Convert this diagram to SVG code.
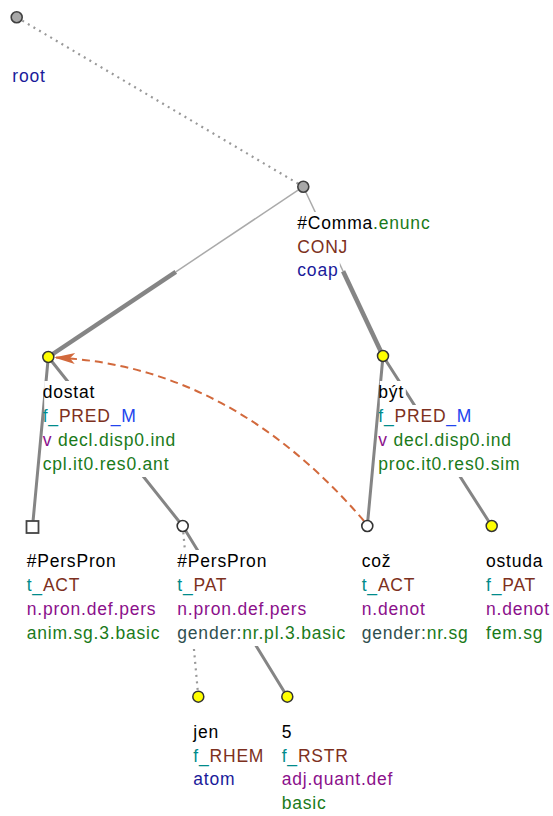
<svg xmlns="http://www.w3.org/2000/svg" width="553" height="816" viewBox="0 0 553 816">
<style>
text{font-family:"Liberation Sans",Arial,sans-serif;font-size:17.5px;letter-spacing:0.8px}
.k{fill:#000}.b{fill:#1a1a9a}.r{fill:#7d3020}.c{fill:#008b8b}.m{fill:#2244ee}.p{fill:#8b108b}.g{fill:#1a7a1a}.s{fill:#2f4f4f}
.bg{fill:#fff}
.e{stroke:#858585;stroke-width:3;fill:none;stroke-linecap:round}
.thin{stroke:#aaa;stroke-width:1.5;fill:none}
.thick{stroke:#858585;stroke-width:4.5;fill:none}
.dot{stroke:#999;stroke-width:2.2;stroke-dasharray:2 4.5;fill:none}
.ny{fill:#ffff00;stroke:#333;stroke-width:1.5}
.nw{fill:#fff;stroke:#333;stroke-width:1.6}
.ng{fill:#a8a8a8;stroke:#404040;stroke-width:1.6}
</style>
<defs>
<marker id="ah" markerUnits="userSpaceOnUse" markerWidth="24" markerHeight="14" refX="22" refY="7" orient="auto" viewBox="0 0 24 14">
<path d="M22,7 L1,1.5 L6,7 L1,12.5 Z" fill="#d2693c"/>
</marker>
</defs>
<g id="connectors">
<line class="dot" x1="16.7" y1="17.3" x2="303.3" y2="186.7"/>
<line class="thin" x1="303.3" y1="186.7" x2="175.8" y2="271.8"/>
<line class="thick" x1="175.8" y1="271.8" x2="48.3" y2="357"/>
<line class="thin" x1="303.3" y1="186.7" x2="343.1" y2="271.3"/>
<line class="thick" x1="343.1" y1="271.3" x2="383" y2="356"/>
<line class="e" x1="48.3" y1="357" x2="32.5" y2="527"/>
<line class="e" x1="48.3" y1="357" x2="182.7" y2="526"/>
<line class="e" x1="383" y1="356" x2="367.3" y2="526"/>
<line class="e" x1="383" y1="356" x2="491.7" y2="526"/>
<line class="dot" x1="182.7" y1="526" x2="198.3" y2="696.7"/>
<line class="e" x1="182.7" y1="526" x2="287.3" y2="696.7"/>
<path d="M364,521 Q230,365 54,357.5" fill="none" stroke="#d2693c" stroke-width="2" stroke-dasharray="8 5" marker-end="url(#ah)"/>
</g>
<g id="n-root">
<circle class="ng" cx="16.7" cy="17.3" r="5.5"/>
<text x="12.3" y="82" class="b">root</text>
</g>
<g id="n-comma">
<rect class="bg" x="298.8" y="212" width="133" height="24"/>
<rect class="bg" x="298.8" y="236" width="51" height="24"/>
<rect class="bg" x="298.8" y="260" width="41" height="22"/>
<circle class="ng" cx="303.3" cy="186.7" r="5.5"/>
<text x="297.3" y="229"><tspan class="k">#Comma</tspan><tspan class="g">.enunc</tspan></text>
<text x="297.3" y="252.5" class="r">CONJ</text>
<text x="297.3" y="276" class="b">coap</text>
</g>
<g id="n-dostat">
<rect class="bg" x="44.2" y="381" width="52" height="24"/>
<rect class="bg" x="44.2" y="405" width="94" height="24"/>
<rect class="bg" x="44.2" y="429" width="133" height="24"/>
<rect class="bg" x="44.2" y="453" width="126" height="24"/>
<circle class="ny" cx="48.3" cy="357" r="5.5"/>
<text x="42.7" y="397.7" class="k">dostat</text>
<text x="42.7" y="421.7"><tspan class="c">f_</tspan><tspan class="r">PRED</tspan><tspan class="m">_M</tspan></text>
<text x="42.7" y="445.7"><tspan class="p">v</tspan><tspan class="g"> decl.disp0.ind</tspan></text>
<text x="42.7" y="469.7" class="g">cpl.it0.res0.ant</text>
</g>
<g id="n-byt">
<rect class="bg" x="379.8" y="381" width="26" height="24"/>
<rect class="bg" x="379.8" y="405" width="94" height="24"/>
<rect class="bg" x="379.8" y="429" width="133" height="24"/>
<rect class="bg" x="379.8" y="453" width="142" height="24"/>
<circle class="ny" cx="383" cy="356" r="5.5"/>
<text x="378.3" y="397.7" class="k">být</text>
<text x="378.3" y="421.7"><tspan class="c">f_</tspan><tspan class="r">PRED</tspan><tspan class="m">_M</tspan></text>
<text x="378.3" y="445.7"><tspan class="p">v</tspan><tspan class="g"> decl.disp0.ind</tspan></text>
<text x="378.3" y="469.7" class="g">proc.it0.res0.sim</text>
</g>
<g id="n-act">
<rect class="bg" x="28.2" y="550" width="90" height="24"/>
<rect class="bg" x="28.2" y="574" width="54" height="24"/>
<rect class="bg" x="28.2" y="598" width="130" height="24"/>
<rect class="bg" x="28.2" y="622" width="134" height="24"/>
<rect x="26.5" y="521" width="12" height="12" fill="#fff" stroke="#444" stroke-width="1.8"/>
<text x="26.7" y="567" class="k">#PersPron</text>
<text x="26.7" y="591.2"><tspan class="c">t_</tspan><tspan class="r">ACT</tspan></text>
<text x="26.7" y="615.3" class="p">n.pron.def.pers</text>
<text x="26.7" y="639" class="g">anim.sg.3.basic</text>
</g>
<g id="n-pat">
<rect class="bg" x="178.8" y="550" width="90" height="24"/>
<rect class="bg" x="178.8" y="574" width="53" height="24"/>
<rect class="bg" x="178.8" y="598" width="130" height="24"/>
<rect class="bg" x="178.8" y="622" width="170" height="24"/>
<circle class="nw" cx="182.7" cy="526" r="5.5"/>
<text x="177.3" y="567" class="k">#PersPron</text>
<text x="177.3" y="591.2"><tspan class="c">t_</tspan><tspan class="r">PAT</tspan></text>
<text x="177.3" y="615.3" class="p">n.pron.def.pers</text>
<text x="177.3" y="639"><tspan class="s">gender:</tspan><tspan class="g">nr.pl.3.basic</tspan></text>
</g>
<g id="n-coz">
<rect class="bg" x="363.2" y="550" width="30" height="24"/>
<rect class="bg" x="363.2" y="574" width="54" height="24"/>
<rect class="bg" x="363.2" y="598" width="64" height="24"/>
<rect class="bg" x="363.2" y="622" width="108" height="24"/>
<circle class="nw" cx="367.3" cy="526" r="5.5"/>
<text x="361.7" y="567" class="k">což</text>
<text x="361.7" y="591.2"><tspan class="c">t_</tspan><tspan class="r">ACT</tspan></text>
<text x="361.7" y="615.3" class="p">n.denot</text>
<text x="361.7" y="639"><tspan class="s">gender:</tspan><tspan class="g">nr.sg</tspan></text>
</g>
<g id="n-ostuda">
<rect class="bg" x="487.5" y="550" width="58" height="24"/>
<rect class="bg" x="487.5" y="574" width="53" height="24"/>
<rect class="bg" x="487.5" y="598" width="64" height="24"/>
<rect class="bg" x="487.5" y="622" width="58" height="24"/>
<circle class="ny" cx="491.7" cy="526" r="5.5"/>
<text x="486" y="567" class="k">ostuda</text>
<text x="486" y="591.2"><tspan class="c">f_</tspan><tspan class="r">PAT</tspan></text>
<text x="486" y="615.3" class="p">n.denot</text>
<text x="486" y="639" class="g">fem.sg</text>
</g>
<g id="n-jen">
<rect class="bg" x="194.8" y="721" width="26" height="24"/>
<rect class="bg" x="194.8" y="745" width="71" height="24"/>
<rect class="bg" x="194.8" y="769" width="42" height="24"/>
<circle class="ny" cx="198.3" cy="696.7" r="5.5"/>
<text x="193.3" y="738.3" class="k">jen</text>
<text x="193.3" y="761.8"><tspan class="c">f_</tspan><tspan class="r">RHEM</tspan></text>
<text x="193.3" y="785.2" class="b">atom</text>
</g>
<g id="n-5">
<rect class="bg" x="283.2" y="721" width="11" height="24"/>
<rect class="bg" x="283.2" y="745" width="67" height="24"/>
<rect class="bg" x="283.2" y="769" width="106" height="24"/>
<rect class="bg" x="283.2" y="793" width="45" height="22"/>
<circle class="ny" cx="287.3" cy="696.7" r="5.5"/>
<text x="281.7" y="738.3" class="k">5</text>
<text x="281.7" y="761.8"><tspan class="c">f_</tspan><tspan class="r">RSTR</tspan></text>
<text x="281.7" y="785.2" class="p">adj.quant.def</text>
<text x="281.7" y="808.5" class="g">basic</text>
</g>
</svg>
